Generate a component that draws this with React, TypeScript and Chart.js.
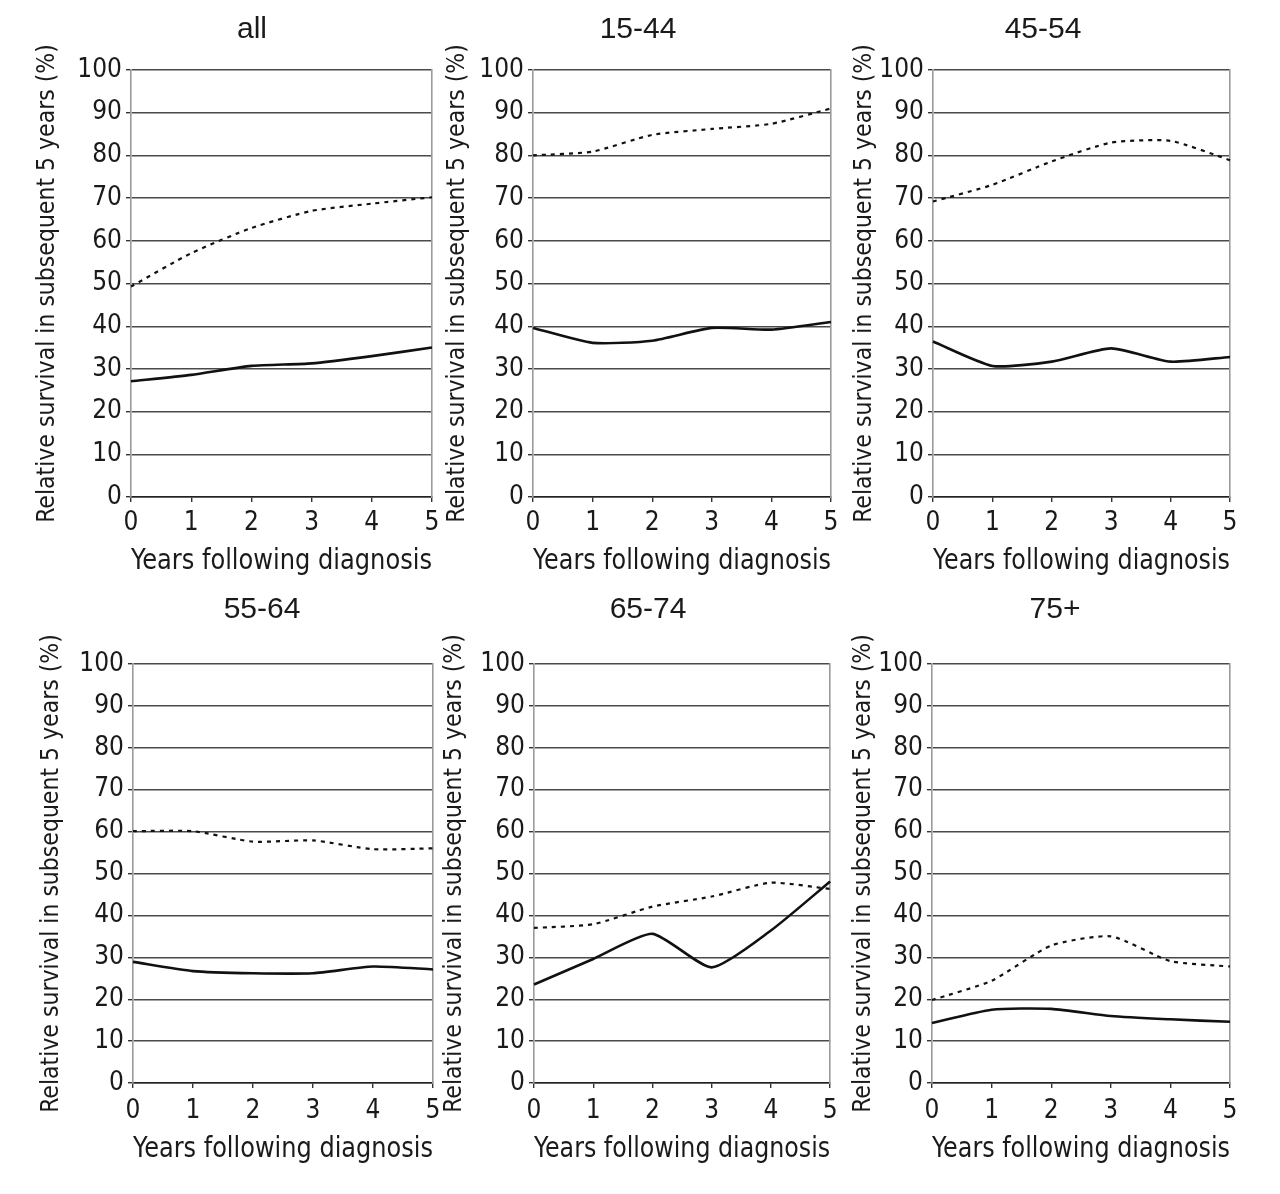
import React, { useEffect, useRef } from 'react';
import { Chart, registerables } from 'chart.js';

Chart.register(...registerables);

// ---- data ----
const years = ['0', '1', '2', '3', '4', '5'];
const panelTitles = ['all', '15-44', '45-54', '55-64', '65-74', '75+'];

const dottedAll = [49.3, 57.1, 63, 67, 68.7, 70.2];
const solidAll = [27.1, 28.6, 30.7, 31.3, 33, 35];
const dotted1544 = [80, 80.9, 84.8, 86.2, 87.4, 91];
const solid1544 = [39.6, 36.1, 36.6, 39.6, 39.2, 41];
const dotted4554 = [69.2, 73.1, 78.6, 83, 83.4, 78.9];
const solid4554 = [36.4, 30.7, 31.7, 34.8, 31.7, 32.8];
const dotted5564 = [60.1, 60.1, 57.6, 57.9, 55.8, 56];
const solid5564 = [28.9, 26.7, 26.2, 26.2, 27.8, 27.1];
const dotted6574 = [37, 37.9, 42.1, 44.5, 47.8, 46.3];
const solid6574 = [23.5, 29.6, 35.6, 27.6, 36.4, 48.1];
const dotted75 = [19.8, 24.4, 32.8, 35, 29.1, 27.8];
const solid75 = [14.3, 17.5, 17.7, 16, 15.2, 14.6];

const dottedSeries = [dottedAll, dotted1544, dotted4554, dotted5564, dotted6574, dotted75];
const solidSeries = [solidAll, solid1544, solid4554, solid5564, solid6574, solid75];

const yAxisTitle = 'Relative survival in subsequent 5 years (%)';
const xAxisTitle = 'Years following diagnosis';

// ---- layout (page pixels) ----
const layouts = [
  { pl: 131, pr: 432, pt: 70, pb: 497, tc: 252, ty: 30, yc: 48, tickOff: 26, titleOff: 64 },
  { pl: 533, pr: 831, pt: 70, pb: 497, tc: 638, ty: 30, yc: 458, tickOff: 26, titleOff: 64 },
  { pl: 933, pr: 1230, pt: 70, pb: 497, tc: 1043, ty: 30, yc: 865, tickOff: 26, titleOff: 64 },
  { pl: 133, pr: 433, pt: 664, pb: 1083, tc: 262, ty: 610, yc: 52, tickOff: 28, titleOff: 66 },
  { pl: 534, pr: 831, pt: 664, pb: 1083, tc: 648, ty: 610, yc: 455, tickOff: 28, titleOff: 66 },
  { pl: 932, pr: 1230, pt: 664, pb: 1083, tc: 1055, ty: 610, yc: 864, tickOff: 28, titleOff: 66 },
];

const NARROW = '"Liberation Sans Narrow", "Arial Narrow", "DejaVu Sans Condensed", sans-serif';
const REGULAR = '"Liberation Sans", Arial, sans-serif';
const TEXT = '#1a1a1a';

function Panel({ idx }: { idx: number }) {
  const ref = useRef<HTMLCanvasElement | null>(null);
  const L = layouts[idx];
  const titleSize = 30;
  const titleLH = titleSize * 1.2;
  const xTitleSize = 29;
  const xTitleLH = xTitleSize * 1.2;
  const yTitleSize = 24.5;
  const yTitleLH = yTitleSize * 1.2;
  const tickSize = 26;
  const tickLH = tickSize * 1.2;
  const tickLen = 5;
  const tickPadY = 4;

  // y-scale box left: keep tick labels inside it (labels are clipped to it)
  const S = Math.min(2 * L.tc - L.pr, L.pl - tickLen - tickPadY - 48);
  const E = Math.max(0, 2 * L.tc - L.pr - S); // right spacer so the title stays centred at tc
  const L0 = L.yc - 24;
  const padLeft = S - L0;
  const padRight = 14;
  const W = L.pr + E + padRight - L0;
  const T0 = L.ty - titleLH / 2 - 5;
  const titlePadTop = 5;
  const titlePadBottom = L.pt - T0 - titleLH - titlePadTop;
  const xH = L.titleOff + xTitleLH / 2;
  const H = L.pb + xH - T0;
  const yW = L.pl - S;
  const yTitlePad = L.yc - S - yTitleLH / 2;
  const xTickPad = L.tickOff - tickLen - tickLH / 2;

  useEffect(() => {
    if (!ref.current) return;
    const chart = new Chart(ref.current, {
      type: 'line',
      data: {
        labels: years,
        datasets: [
          {
            label: 'Dotted line',
            data: dottedSeries[idx],
            borderColor: '#111',
            borderWidth: 2.2,
            borderDash: [4, 5],
            pointRadius: 0,
            tension: 0.2,
            fill: false,
          },
          {
            label: 'Solid line',
            data: solidSeries[idx],
            borderColor: '#111',
            borderWidth: 2.6,
            pointRadius: 0,
            tension: 0.2,
            fill: false,
          },
        ],
      },
      options: {
        animation: false,
        responsive: true,
        maintainAspectRatio: false,
        layout: { padding: { left: padLeft, right: padRight, top: 0, bottom: 0 } },
        plugins: {
          legend: { display: false },
          tooltip: { enabled: false },
          title: {
            display: true,
            text: panelTitles[idx],
            color: TEXT,
            font: { family: REGULAR, size: titleSize, weight: 'normal' },
            padding: { top: titlePadTop, bottom: titlePadBottom },
          },
        },
        scales: {
          x: {
            type: 'category',
            offset: false,
            grid: {
              drawOnChartArea: false,
              drawTicks: true,
              tickLength: tickLen,
              color: '#333',
              lineWidth: 1.4,
            },
            border: { display: true, color: '#222', width: 1.6 },
            ticks: {
              color: TEXT,
              font: { family: NARROW, size: tickSize },
              padding: xTickPad,
              maxRotation: 0,
              autoSkip: false,
            },
            title: {
              display: true,
              text: xAxisTitle,
              color: TEXT,
              font: { family: NARROW, size: xTitleSize },
              padding: { top: 0, bottom: 0 },
            },
            afterFit: (scale: any) => {
              scale.height = xH;
            },
          },
          y: {
            min: 0,
            max: 100,
            position: 'left',
            ticks: {
              stepSize: 10,
              color: TEXT,
              font: { family: NARROW, size: tickSize },
              padding: tickPadY,
            },
            grid: {
              color: '#4a4a4a',
              lineWidth: 1.4,
              drawTicks: true,
              tickLength: tickLen,
              tickColor: '#333',
            },
            border: { display: true, color: '#9a9a9a', width: 1.6 },
            title: {
              display: true,
              text: yAxisTitle,
              color: TEXT,
              font: { family: NARROW, size: yTitleSize },
              padding: { top: yTitlePad, bottom: 0 },
            },
            afterFit: (scale: any) => {
              scale.width = yW;
            },
          },
          y2: {
            position: 'right',
            min: 0,
            max: 100,
            ticks: { display: false },
            grid: { display: false, drawTicks: false },
            border: { display: true, color: '#9a9a9a', width: 1.6 },
            afterFit: (scale: any) => {
              scale.width = E;
            },
          },
        },
      } as any,
    });
    return () => chart.destroy();
  }, [idx]);

  return (
    <div
      style={{
        position: 'absolute',
        left: L0,
        top: T0,
        width: W,
        height: H,
      }}
    >
      <canvas ref={ref} />
    </div>
  );
}

export default function App() {
  return (
    <div style={{ position: 'absolute', left: 0, top: 0, width: 1280, height: 1194, background: '#fff' }}>
      {panelTitles.map((_, i) => (
        <Panel key={i} idx={i} />
      ))}
    </div>
  );
}
